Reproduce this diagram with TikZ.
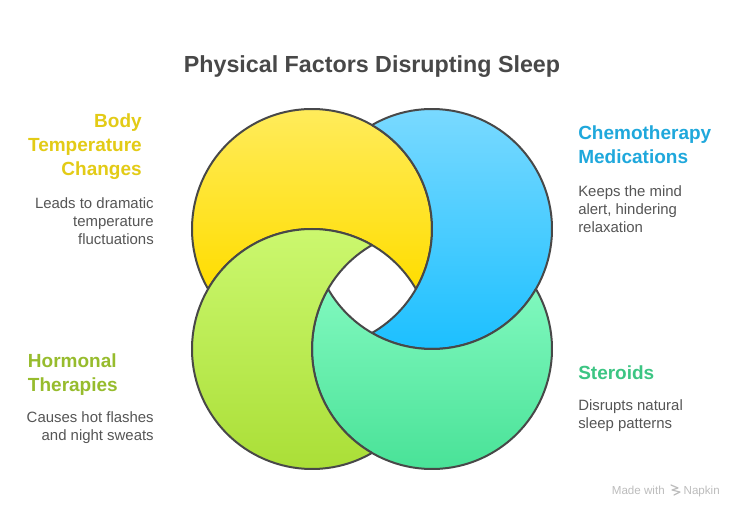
\documentclass[tikz,border=0pt]{standalone}
\usepackage{fontspec}
\setmainfont{Liberation Sans}
\definecolor{ink}{HTML}{484848}
\definecolor{bodyc}{HTML}{555555}
\definecolor{ycol}{HTML}{E3CB16}
\definecolor{bcol}{HTML}{1FA8DC}
\definecolor{gcol}{HTML}{97BC2D}
\definecolor{tcol}{HTML}{3CC583}
\definecolor{marks}{HTML}{BDBDBD}
\tikzset{
  px/.style={x=0.75pt,y=-0.75pt},
  crescent/.style={draw=ink,line width=1.5pt,line join=round},
  ttl/.style={inner sep=0,text=ink,font=\fontsize{17.45}{22}\selectfont\bfseries},
  headl/.style={inner sep=0,align=right,anchor=north east,font=\fontsize{14.25}{18}\selectfont\bfseries},
  headr/.style={inner sep=0,align=left,anchor=north west,font=\fontsize{14.25}{18}\selectfont\bfseries},
  bodyl/.style={inner sep=0,align=right,anchor=north east,text=bodyc,font=\fontsize{11.2}{13.5}\selectfont},
  bodyr/.style={inner sep=0,align=left,anchor=north west,text=bodyc,font=\fontsize{11.2}{13.5}\selectfont},
  wm/.style={inner sep=0,text=marks,font=\fontsize{8.7}{10}\selectfont},
}
\begin{document}
\begin{tikzpicture}[px]
\useasboundingbox (0,0) rectangle (744,517);
\fill[white] (0,0) rectangle (744,517);
\def\R{90pt}
% yellow crescent: circle (312,229) minus green circle (312,349)
\shade[crescent,top color={rgb,255:red,255;green,237;blue,100},bottom color={rgb,255:red,255;green,221;blue,0}]
  (208.08,289) arc[start angle=210,end angle=-30,radius=\R] arc[start angle=30,end angle=150,radius=\R] -- cycle;
% blue crescent: circle (432,229) minus yellow circle
\shade[crescent,top color={rgb,255:red,128;green,219;blue,255},bottom color={rgb,255:red,26;green,191;blue,255}]
  (372,125.08) arc[start angle=120,end angle=-120,radius=\R] arc[start angle=-60,end angle=60,radius=\R] -- cycle;
% teal crescent: circle (432,349) minus blue circle
\shade[crescent,top color={rgb,255:red,128;green,248;blue,190},bottom color={rgb,255:red,68;green,224;blue,148}]
  (535.92,289) arc[start angle=30,end angle=-210,radius=\R] arc[start angle=210,end angle=330,radius=\R] -- cycle;
% green crescent: circle (312,349) minus teal circle
\shade[crescent,top color={rgb,255:red,204;green,248;blue,112},bottom color={rgb,255:red,168;green,221;blue,51}]
  (372,452.92) arc[start angle=-60,end angle=-300,radius=\R] arc[start angle=120,end angle=240,radius=\R] -- cycle;

\node[ttl] (title) at (372,67) {Physical Factors Disrupting Sleep};

\node[headl,text=ycol] (h1) at (142,113) {Body\\Temperature\\Changes};
\node[bodyl] (b1) at (154,197) {Leads to dramatic\\temperature\\fluctuations};
\node[headr,text=bcol] (h2) at (578,125) {Chemotherapy\\Medications};
\node[bodyr] (b2) at (578,185) {Keeps the mind\\alert, hindering\\relaxation};
\node[headl,text=gcol,align=left] (h3) at (118,353) {Hormonal\\Therapies};
\node[bodyl] (b3) at (154,411) {Causes hot flashes\\and night sweats};
\node[headr,text=tcol] (h4) at (578,365) {Steroids};
\node[bodyr] (b4) at (578,399) {Disrupts natural\\sleep patterns};

\node[wm,anchor=base east] (made) at (665,494) {Made with};
\node[wm,anchor=base east] (nap) at (720,494) {Napkin};
\draw[marks,line width=0.9pt,line cap=round,line join=round] (671,485) -- (678,488) -- (672,490) -- (680,492) -- (674,495);
\end{tikzpicture}
\end{document}
